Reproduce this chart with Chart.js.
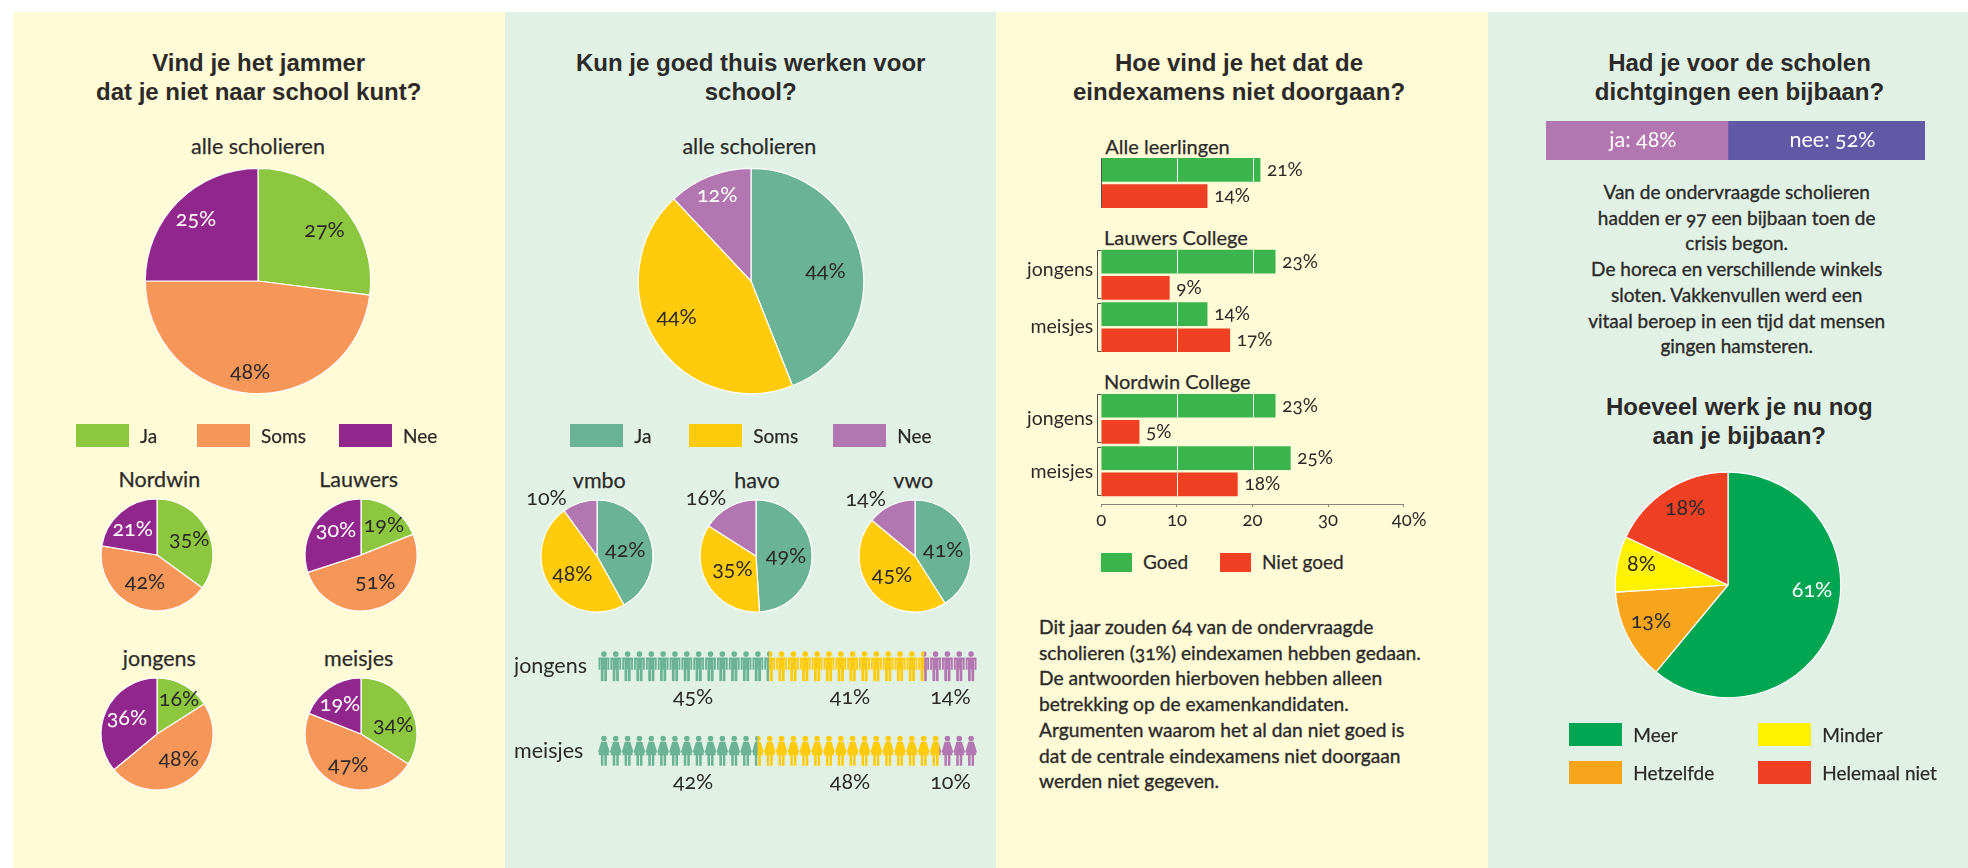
<!DOCTYPE html>
<html>
<head>
<meta charset="utf-8">
<title>Scholieren en corona</title>
<script src="https://cdn.jsdelivr.net/npm/chart.js@4/dist/chart.umd.js"></script>
<style>
    html, body { margin: 0; padding: 0; background: #fff; }
    #page { position: relative; width: 1968px; height: 868px; overflow: hidden; font-family: Lato, sans-serif; color: #2b2a29; font-variant-numeric: oldstyle-nums; }
    #page div, #page canvas { position: absolute; }
    .panel { top: 12px; bottom: 0; }
    .title { font: bold 24px/29px "Liberation Sans", sans-serif; white-space: nowrap; text-align: center; transform: translate(-50%, -50%); }
    .label { white-space: nowrap; transform: translate(-50%, -50%); -webkit-text-stroke: 0.25px #2b2a29; }
    .left { white-space: nowrap; transform: translateY(-50%); -webkit-text-stroke: 0.25px #2b2a29; }
    .copy { white-space: pre; transform: translate(-50%, 0); text-align: center; -webkit-text-stroke: 0.35px #2b2a29; }
</style>
</head>
<body>
<div id="page"></div>
<script>
// legend names
const jaSomsNee = ['Ja', 'Soms', 'Nee'];
const werkNames = ['Meer', 'Hetzelfde', 'Minder', 'Helemaal niet'];

// vraag 1: jammer dat je niet naar school kunt
const jammerAlle = [27, 48, 25];
const jammerNordwin = [35, 42.6, 22.4];      // slices as drawn, printed labels add up to 98
const jammerNordwinShown = [35, 42, 21];
const jammerLauwers = [19, 51, 30];
const jammerJongens = [16, 48, 36];
const jammerMeisjes = [34, 47, 19];

// vraag 2: goed thuis werken
const thuisAlle = [44, 44, 12];
const thuisVmbo = [42, 48, 10];
const thuisHavo = [49, 35, 16];
const thuisVwo = [41, 45, 14];
const peopleRows = ['jongens', 'meisjes'];
const peopleJa = [45, 42];
const peopleSoms = [41, 48];
const peopleNee = [14, 10];

// vraag 3: eindexamens, rows in the order of the picture
const goedValues = [21, 23, 14, 23, 25];
const nietGoedValues = [14, 9, 17, 5, 18];
const goedRows = [0, 7, 11, 18, 22];
const nietGoedRows = [2, 9, 13, 20, 24];
const examTicks = [0, 10, 20, 30, 40];
const examSideLabels = ['jongens', 'meisjes', 'jongens', 'meisjes'];

// vraag 4: bijbaan
const bijbaanNames = ['ja', 'nee'];
const bijbaanValues = [48, 52];
const werkValues = [61, 13, 8, 18];

const INK = '#2b2a29';
const CREAM = '#fffbd7';
const MINT = '#e2f1e6';
const jammerColors = ['#8dc63f', '#f79659', '#91278c'];
const thuisColors = ['#6bb396', '#ffcb0b', '#b276b0'];
const examColors = ['#3ab54e', '#f04023'];
const werkColors = ['#00a651', '#f9a51b', '#fff200', '#f04023'];
const bijbaanColors = ['#b276b0', '#6159a6'];

Chart.defaults.font.family = 'Lato, sans-serif';
Chart.defaults.color = INK;
Chart.defaults.animation = false;
Chart.defaults.responsive = false;
Chart.defaults.devicePixelRatio = 1;
Chart.defaults.plugins.legend.display = false;
Chart.defaults.plugins.tooltip.enabled = false;

const page = document.getElementById('page');

function addDiv(className, html, x, y, style) {
    const el = document.createElement('div');
    el.className = className;
    el.innerHTML = html;
    el.style.left = x + 'px';
    el.style.top = y + 'px';
    Object.assign(el.style, style || {});
    page.appendChild(el);
    return el;
}

function addCanvas(left, top, width, height) {
    const canvas = document.createElement('canvas');
    canvas.width = width;
    canvas.height = height;
    canvas.style.left = left + 'px';
    canvas.style.top = top + 'px';
    page.appendChild(canvas);
    return canvas;
}

function legendItem(name, color, boxX, boxY, textX) {
    const box = addDiv('', '', boxX, boxY, { width: '53px', height: '23px', background: color });
    addDiv('left', name, textX, boxY + 10.5, { fontSize: '19px' });
    return box;
}

// spots: label centre relative to the pie centre, as a fraction of the radius
function pie(values, colors, cx, cy, r, spots, textColors, shown) {
    const border = 1.2;
    const half = Math.ceil(r + border / 2 + 45);
    const canvas = addCanvas(Math.round(cx - half), Math.round(cy - half), half * 2, half * 2);
    const printed = shown || values;
    new Chart(canvas, {
        type: 'pie',
        data: {
            labels: values.map((v, i) => i),
            datasets: [{ data: values, backgroundColor: colors, borderColor: '#fff', borderWidth: border }]
        },
        options: { layout: { padding: half - r - border / 2 } },
        plugins: [{
            afterDatasetsDraw: chart => {
                const ctx = chart.ctx;
                const arc = chart.getDatasetMeta(0).data[0];
                ctx.save();
                ctx.font = '21.5px Lato';
                ctx.textAlign = 'center';
                ctx.textBaseline = 'middle';
                printed.forEach((v, i) => {
                    ctx.fillStyle = textColors[i];
                    ctx.fillText(v + '%', arc.x + spots[i][0] * arc.outerRadius, arc.y + spots[i][1] * arc.outerRadius);
                });
                ctx.restore();
            }
        }]
    });
}

// one pictogram, the sizes below are for a 30px high figure
function personPath(ctx, cx, top, h, girl) {
    const u = h / 30;
    const poly = pts => {
        ctx.moveTo(cx + pts[0][0] * u, top + pts[0][1] * u);
        pts.slice(1).forEach(p => ctx.lineTo(cx + p[0] * u, top + p[1] * u));
        ctx.closePath();
    };
    const box = (x, y, w2, h2) => ctx.rect(cx + x * u, top + y * u, w2 * u, h2 * u);

    ctx.moveTo(cx + 2.8 * u, top + 2.8 * u);
    ctx.arc(cx, top + 2.8 * u, 2.8 * u, 0, Math.PI * 2);
    if (girl) {
        poly([[-2.8, 6], [2.8, 6], [3, 9], [5.2, 19.5], [-5.2, 19.5], [-3, 9]]);
        poly([[-2.8, 6.2], [-2, 7.6], [-4.8, 17], [-5.9, 16.5]]);
        poly([[2.8, 6.2], [5.9, 16.5], [4.8, 17], [2, 7.6]]);
        box(-3, 19, 2.5, 11);
        box(0.5, 19, 2.5, 11);
    } else {
        box(-5.4, 6.2, 10.8, 2.4);
        box(-5.4, 6.6, 1.9, 12);
        box(3.5, 6.6, 1.9, 12);
        box(-3.1, 6.2, 6.2, 12);
        box(-3.1, 16, 2.75, 14);
        box(0.35, 16, 2.75, 14);
    }
}

// ---------- panels
addDiv('panel', '', 13, 12, { width: '492px', background: CREAM });
addDiv('panel', '', 505, 12, { width: '491px', background: MINT });
addDiv('panel', '', 996, 12, { width: '492px', background: CREAM });
addDiv('panel', '', 1488, 12, { width: '480px', background: MINT });

// ---------- panel 1
addDiv('title', 'Vind je het jammer<br>dat je niet naar school kunt?', 258.7, 77);
addDiv('label', 'alle scholieren', 258, 146, { fontSize: '21.5px' });
pie(jammerAlle, jammerColors, 258.3, 281, 112.7, [[0.59, -0.45], [-0.07, 0.81], [-0.55, -0.55]], [INK, INK, '#fff']);
legendItem(jaSomsNee[0], jammerColors[0], 76, 424, 140);
legendItem(jaSomsNee[1], jammerColors[1], 197, 424, 261);
legendItem(jaSomsNee[2], jammerColors[2], 339, 424, 403);

addDiv('label', 'Nordwin', 159.3, 479, { fontSize: '21.5px' });
addDiv('label', 'Lauwers', 358.7, 479, { fontSize: '21.5px' });
addDiv('label', 'jongens', 159.3, 658, { fontSize: '21.5px' });
addDiv('label', 'meisjes', 358.7, 658, { fontSize: '21.5px' });
pie(jammerNordwin, jammerColors, 157, 555.3, 56, [[0.577, -0.28], [-0.214, 0.488], [-0.435, -0.464]], [INK, INK, '#fff'], jammerNordwinShown);
pie(jammerLauwers, jammerColors, 361, 555.3, 56, [[0.41, -0.536], [0.256, 0.482], [-0.446, -0.452]], [INK, INK, '#fff']);
pie(jammerJongens, jammerColors, 157, 734, 56, [[0.393, -0.63], [0.387, 0.446], [-0.536, -0.28]], [INK, INK, '#fff']);
pie(jammerMeisjes, jammerColors, 361, 734, 56, [[0.577, -0.16], [-0.226, 0.548], [-0.375, -0.54]], [INK, INK, '#fff']);

// ---------- panel 2
addDiv('title', 'Kun je goed thuis werken voor<br>school?', 750.7, 77);
addDiv('label', 'alle scholieren', 749.3, 146, { fontSize: '21.5px' });
pie(thuisAlle, thuisColors, 751.3, 281, 112.7, [[0.66, -0.09], [-0.66, 0.32], [-0.3, -0.76]], [INK, INK, '#fff']);
legendItem(jaSomsNee[0], thuisColors[0], 570, 424, 634.3);
legendItem(jaSomsNee[1], thuisColors[1], 689, 424, 753.3);
legendItem(jaSomsNee[2], thuisColors[2], 833, 424, 897.3);

addDiv('label', 'vmbo', 599.3, 479.7, { fontSize: '21.5px' });
addDiv('label', 'havo', 757, 479.7, { fontSize: '21.5px' });
addDiv('label', 'vwo', 913.3, 479.7, { fontSize: '21.5px' });
pie(thuisVmbo, thuisColors, 596.7, 555.7, 56, [[0.506, -0.107], [-0.44, 0.315], [-0.9, -1.03]], [INK, INK, INK]);
pie(thuisHavo, thuisColors, 755.7, 555.7, 56, [[0.536, -0.006], [-0.42, 0.232], [-0.893, -1.04]], [INK, INK, INK]);
pie(thuisVwo, thuisColors, 914.7, 555.7, 56, [[0.506, -0.107], [-0.41, 0.333], [-0.88, -1.024]], [INK, INK, INK]);

// stacked bars seen through a row of pictograms
const peopleCount = 32;
const peopleLabelAt = [25.1, 66.5, 93];
const peopleValues = [peopleJa, peopleSoms, peopleNee];
new Chart(addCanvas(514, 624, 463, 169), {
    type: 'bar',
    data: {
        labels: peopleRows,
        datasets: jaSomsNee.map((name, i) => ({
            label: name,
            data: peopleValues[i],
            backgroundColor: thuisColors[i],
            barThickness: 30
        }))
    },
    options: {
        indexAxis: 'y',
        scales: {
            x: { stacked: true, display: false, min: 0, max: 100 },
            y: {
                stacked: true,
                afterFit: s => { s.width = 84; s.paddingTop = 0; s.paddingBottom = 0; },
                grid: { display: false, drawTicks: false },
                border: { display: false },
                ticks: { crossAlign: 'far', font: { size: 21.5 }, color: INK, padding: 0 }
            }
        }
    },
    plugins: [{
        beforeDatasetsDraw: chart => {
            const ctx = chart.ctx;
            const slot = chart.chartArea.width / peopleCount;
            ctx.save();
            ctx.beginPath();
            chart.getDatasetMeta(0).data.forEach((bar, row) => {
                for (let i = 0; i < peopleCount; i++) {
                    personPath(ctx, chart.chartArea.left + slot * (i + 0.5), bar.y - bar.height / 2, bar.height, row === 1);
                }
            });
            ctx.clip();
        },
        afterDatasetsDraw: chart => {
            const ctx = chart.ctx;
            ctx.restore();
            ctx.save();
            ctx.font = '21.5px Lato';
            ctx.fillStyle = INK;
            ctx.textAlign = 'center';
            ctx.textBaseline = 'middle';
            chart.getDatasetMeta(0).data.forEach((bar, row) => {
                peopleValues.forEach((series, i) => {
                    ctx.fillText(series[row] + '%', chart.scales.x.getPixelForValue(peopleLabelAt[i]), bar.y + 31);
                });
            });
            ctx.restore();
        }
    }]
});

// ---------- panel 3
addDiv('title', 'Hoe vind je het dat de<br>eindexamens niet doorgaan?', 1239, 77);
addDiv('left', 'Alle leerlingen', 1105.3, 145.7, { fontSize: '20px' });
addDiv('left', 'Lauwers College', 1104, 237.3, { fontSize: '20px' });
addDiv('left', 'Nordwin College', 1104, 381.3, { fontSize: '20px' });

const examSlots = 26;
const slotData = (rows, values) => Array.from({ length: examSlots }, (_, i) => rows.includes(i) ? values[rows.indexOf(i)] : null);
const sideLabelSlots = [7.65, 12, 19, 23];
const brackets = [[7, 9], [11, 13], [18, 20], [22, 24]];
const BAR_H = 23;

new Chart(addCanvas(1000, 143, 470, 391), {
    type: 'bar',
    data: {
        labels: Array.from({ length: examSlots }, () => ''),
        datasets: [
            { label: 'Goed', data: slotData(goedRows, goedValues), backgroundColor: examColors[0], barThickness: BAR_H, clip: false },
            { label: 'Niet goed', data: slotData(nietGoedRows, nietGoedValues), backgroundColor: examColors[1], barThickness: BAR_H, clip: false }
        ]
    },
    options: {
        indexAxis: 'y',
        layout: { padding: { left: 101.3, right: 66.3, top: 20.4, bottom: 0 } },
        scales: {
            y: { stacked: true, display: false },
            x: {
                stacked: true,
                min: 0,
                max: 40,
                afterFit: s => { s.height = 30; s.paddingLeft = 0; s.paddingRight = 0; },
                afterBuildTicks: s => { s.ticks = examTicks.map(v => ({ value: v })); },
                grid: { drawOnChartArea: false, tickLength: 3, color: '#85837a' },
                border: { color: '#85837a', width: 1 },
                ticks: {
                    autoSkip: false,
                    maxRotation: 0,
                    padding: 2,
                    font: { size: 18.5 },
                    color: INK,
                    callback: v => v === 40 ? '\u200740%' : String(v)
                }
            }
        }
    },
    plugins: [{
        afterDatasetsDraw: chart => {
            const ctx = chart.ctx;
            const x = chart.scales.x;
            const y = chart.scales.y;
            ctx.save();
            // white grid lines show on the bars only, not on the short red bar of the first group
            ctx.strokeStyle = '#fff';
            ctx.lineWidth = 1;
            [goedRows, nietGoedRows].forEach((rows, d) => {
                const values = d === 0 ? goedValues : nietGoedValues;
                rows.forEach((row, i) => {
                    if (d === 1 && row === 2) return;
                    [10, 20].forEach(v => {
                        if (values[i] <= v) return;
                        const px = Math.round(x.getPixelForValue(v)) + 0.5;
                        const py = y.getPixelForValue(row);
                        ctx.beginPath();
                        ctx.moveTo(px, py - BAR_H / 2);
                        ctx.lineTo(px, py + BAR_H / 2);
                        ctx.stroke();
                    });
                });
            });
            // brackets
            ctx.strokeStyle = '#55524e';
            const left = chart.chartArea.left;
            brackets.forEach(b => {
                const y1 = Math.round(y.getPixelForValue(b[0]) - BAR_H / 2) + 0.5;
                const y2 = Math.round(y.getPixelForValue(b[1]) + BAR_H / 2) - 0.5;
                const bx = Math.round(left - 4.5) + 0.5;
                ctx.beginPath();
                ctx.moveTo(left, y1);
                ctx.lineTo(bx, y1);
                ctx.lineTo(bx, y2);
                ctx.lineTo(left, y2);
                ctx.stroke();
            });
            ctx.beginPath();
            ctx.moveTo(Math.round(left) + 0.5, y.getPixelForValue(0) - BAR_H / 2);
            ctx.lineTo(Math.round(left) + 0.5, y.getPixelForValue(2) + BAR_H / 2);
            ctx.stroke();

            ctx.fillStyle = INK;
            ctx.textBaseline = 'middle';
            ctx.font = '19px Lato';
            ctx.textAlign = 'left';
            [goedRows, nietGoedRows].forEach((rows, d) => {
                const values = d === 0 ? goedValues : nietGoedValues;
                rows.forEach((row, i) => {
                    ctx.fillText(values[i] + '%', x.getPixelForValue(values[i]) + 7, y.getPixelForValue(row));
                });
            });
            ctx.font = '19.5px Lato';
            ctx.textAlign = 'right';
            examSideLabels.forEach((name, i) => {
                ctx.fillText(name, left - 8, y.getPixelForValue(sideLabelSlots[i]));
            });
            ctx.restore();
        }
    }]
});

addDiv('', '', 1101, 553, { width: '31px', height: '19px', background: examColors[0] });
addDiv('left', 'Goed', 1143, 561, { fontSize: '19px' });
addDiv('', '', 1220, 553, { width: '31px', height: '19px', background: examColors[1] });
addDiv('left', 'Niet goed', 1262, 561, { fontSize: '19px' });

addDiv('copy',
    'Dit jaar zouden 64 van de ondervraagde\n' +
    'scholieren (31%) eindexamen hebben gedaan.\n' +
    'De antwoorden hierboven hebben alleen\n' +
    'betrekking op de examenkandidaten.\n' +
    'Argumenten waarom het al dan niet goed is\n' +
    'dat de centrale eindexamens niet doorgaan\n' +
    'werden niet gegeven.',
    1039, 614, { fontSize: '19.2px', lineHeight: '25.7px', textAlign: 'left', transform: 'none' });

// ---------- panel 4
addDiv('title', 'Had je voor de scholen<br>dichtgingen een bijbaan?', 1739.5, 77);

new Chart(addCanvas(1546, 121, 379, 39), {
    type: 'bar',
    data: {
        labels: ['bijbaan'],
        datasets: bijbaanNames.map((name, i) => ({
            label: name,
            data: [bijbaanValues[i]],
            backgroundColor: bijbaanColors[i],
            barPercentage: 1,
            categoryPercentage: 1
        }))
    },
    options: {
        indexAxis: 'y',
        scales: {
            x: { stacked: true, display: false, min: 0, max: 100 },
            y: { stacked: true, display: false }
        }
    },
    plugins: [{
        afterDatasetsDraw: chart => {
            const ctx = chart.ctx;
            ctx.save();
            ctx.font = '21.5px Lato';
            ctx.fillStyle = '#fff';
            ctx.textAlign = 'center';
            ctx.textBaseline = 'middle';
            bijbaanNames.forEach((name, i) => {
                const bar = chart.getDatasetMeta(i).data[0];
                ctx.fillText(name + ': ' + bijbaanValues[i] + '%', (bar.x + bar.base) / 2 + 6, bar.y);
            });
            ctx.restore();
        }
    }]
});

addDiv('copy',
    'Van de ondervraagde scholieren\n' +
    'hadden er 97 een bijbaan toen de\n' +
    'crisis begon.\n' +
    'De horeca en verschillende winkels\n' +
    'sloten. Vakkenvullen werd een\n' +
    'vitaal beroep in een tijd dat mensen\n' +
    'gingen hamsteren.',
    1736.7, 179, { fontSize: '19px', lineHeight: '25.7px' });

addDiv('title', 'Hoeveel werk je nu nog<br>aan je bijbaan?', 1739.3, 420.5);
pie(werkValues, werkColors, 1727.7, 585, 112.8, [[0.745, 0.044], [-0.683, 0.32], [-0.767, -0.19], [-0.38, -0.68]], ['#fff', INK, INK, INK]);
legendItem(werkNames[0], werkColors[0], 1569, 723, 1633.3);
legendItem(werkNames[2], werkColors[2], 1758, 723, 1822.3);
legendItem(werkNames[1], werkColors[1], 1569, 761, 1633.3);
legendItem(werkNames[3], werkColors[3], 1758, 761, 1822.3);
</script>
</body>
</html>
